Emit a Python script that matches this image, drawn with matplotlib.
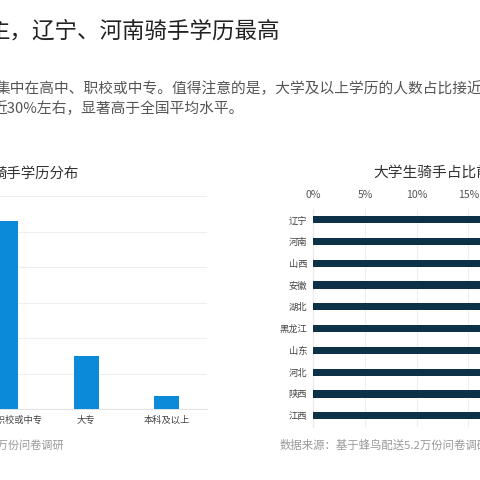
import matplotlib
matplotlib.use("Agg")
import matplotlib.pyplot as plt

plt.rcParams['font.family'] = ['Noto Sans CJK SC', 'DejaVu Sans']

# ---- data ----
edu_categories = ["初中及以下", "高中、职校或中专", "大专", "本科及以上"]
edu_values = [28, 53, 15, 3.7]
edu_yticks = [0, 10, 20, 30, 40, 50, 60]

provinces = ["辽宁", "河南", "山西", "安徽", "湖北", "黑龙江", "山东", "河北", "陕西", "江西"]
college_share = [26.5, 25.8, 24.9, 24.1, 23.5, 22.8, 22.1, 21.6, 21.0, 20.4]
share_ticks = [0, 5, 10, 15, 20, 25, 30]
share_tick_labels = ["0%", "5%", "10%", "15%", "20%", "25%", "30%"]

W = H = 480
fig = plt.figure(figsize=(4.8, 4.8), dpi=100)
fig.patch.set_facecolor("white")

def fx(x):
    return x / W

def fy(y):
    return 1 - y / H

# ---- header texts ----
fig.text(fx(-12), fy(31.5), "主，辽宁、河南骑手学历最高", fontsize=16.2,
         color="#222222", ha="left", va="center")
fig.text(fx(-4.5), fy(89), "集中在高中、职校或中专。值得注意的是，大学及以上学历的人数占比接近",
         fontsize=10.6, color="#555555", ha="left", va="center")
fig.text(fx(-8), fy(109), "近30%左右，显著高于全国平均水平。",
         fontsize=10.6, color="#555555", ha="left", va="center")

# ---- left chart ----
axL = fig.add_axes([fx(-115), fy(409), (207 + 115) / W, (409 - 196) / H])
axL.bar(range(len(edu_categories)), edu_values, width=0.31, color="#0a8ad8", zorder=3)
axL.set_xlim(-0.5, len(edu_categories) - 0.5)
axL.set_ylim(0, 60)
axL.set_yticks(edu_yticks)
axL.set_yticklabels([])
axL.set_xticks(range(len(edu_categories)))
axL.set_xticklabels(edu_categories, fontsize=6.7, color="#444444")
axL.tick_params(axis="both", length=0)
axL.tick_params(axis="x", pad=5)
axL.grid(axis="y", color="#eeeeee", linewidth=0.8, zorder=0)
for s in ["top", "right", "left"]:
    axL.spines[s].set_visible(False)
axL.spines["bottom"].set_color("#e3e3e3")
axL.spines["bottom"].set_linewidth(0.8)

fig.text(fx(79), fy(174), "骑手学历分布", fontsize=10.4, color="#333333",
         ha="right", va="center")
fig.text(fx(64), fy(445), "数据来源：基于蜂鸟配送5.2万份问卷调研", fontsize=8.0,
         color="#999999", ha="right", va="center")

# ---- right chart ----
axR = fig.add_axes([fx(313.3), fy(426.6), (310) / W, (426.6 - 208.8) / H])
axR.barh(range(len(provinces)), college_share, height=0.33, color="#0b3246", zorder=3)
axR.set_ylim(len(provinces) - 0.5, -0.5)
axR.set_xlim(0, 30)
axR.set_yticks(range(len(provinces)))
axR.set_yticklabels(provinces, fontsize=6.7, color="#444444")
axR.set_xticks(share_ticks)
axR.set_xticklabels(share_tick_labels, fontsize=7.6, color="#555555")
axR.xaxis.tick_top()
axR.tick_params(axis="both", length=0)
axR.tick_params(axis="x", pad=6)
axR.tick_params(axis="y", pad=4.5)
axR.grid(axis="x", color="#eeeeee", linewidth=0.8, zorder=0)
for s in ["top", "right", "bottom"]:
    axR.spines[s].set_visible(False)
axR.spines["left"].set_color("#e8e8e8")
axR.spines["left"].set_linewidth(0.8)

fig.text(fx(373), fy(172.5), "大学生骑手占比前十省份", fontsize=10.6, color="#333333",
         ha="left", va="center")
fig.text(fx(280), fy(445), "数据来源：基于蜂鸟配送5.2万份问卷调研", fontsize=8.2,
         color="#999999", ha="left", va="center")

fig.savefig("out.png", dpi=100, facecolor="white")
